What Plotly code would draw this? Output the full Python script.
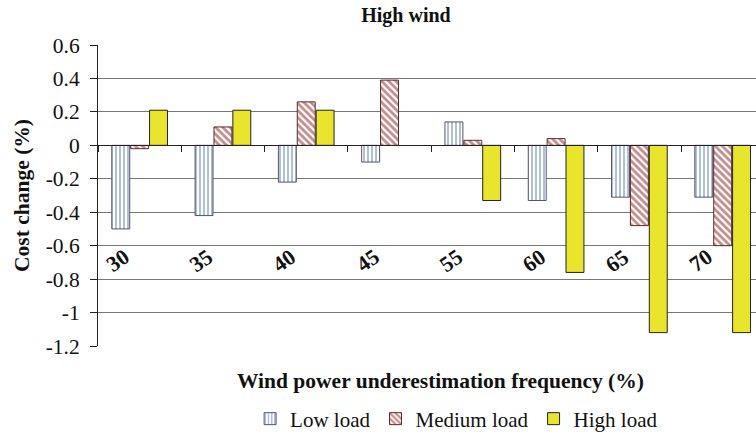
import plotly.graph_objects as go

categories = ["30", "35", "40", "45", "55", "60", "65", "70"]
low_load = [-0.50, -0.42, -0.22, -0.10, 0.14, -0.33, -0.31, -0.31]
medium_load = [-0.02, 0.11, 0.26, 0.39, 0.03, 0.04, -0.48, -0.60]
high_load = [0.21, 0.21, 0.21, None, -0.33, -0.76, -1.12, -1.12]
y_ticks = [0.6, 0.4, 0.2, 0, -0.2, -0.4, -0.6, -0.8, -1, -1.2]
y_tick_text = ["0.6", "0.4", "0.2", "0", "-0.2", "-0.4", "-0.6", "-0.8", "-1", "-1.2"]

FONT = "Liberation Serif"
TXT = "#111111"
LABEL_LEVEL = -0.69  # value level at which the category labels are printed

fig = go.Figure()
fig.add_trace(go.Bar(
    x=categories, y=low_load, name="Low load",
    marker=dict(color="white", line=dict(color="#555566", width=1),
                pattern=dict(shape="|", fgcolor="#4A6FC0", bgcolor="white", size=4, solidity=0.45)),
))
fig.add_trace(go.Bar(
    x=categories, y=medium_load, name="Medium load",
    marker=dict(color="white", line=dict(color="#5a2a2a", width=1),
                pattern=dict(shape="\\", fgcolor="#8B1A1A", bgcolor="white", size=5, solidity=0.55)),
))
fig.add_trace(go.Bar(
    x=categories, y=high_load, name="High load",
    marker=dict(color="#E9E42C", line=dict(color="#222222", width=1)),
))

annotations = [dict(
    text="<b>Wind power underestimation frequency (%)</b>", xref="paper", yref="paper",
    x=0.52, y=-0.115, xanchor="center", yanchor="middle", showarrow=False,
    font=dict(size=21.5, family=FONT, color=TXT),
)]
for i, c in enumerate(categories):
    annotations.append(dict(
        text="<b>" + c + "</b>", xref="x", yref="y", x=i, y=LABEL_LEVEL,
        xshift=-22, xanchor="center", yanchor="middle", textangle=-35, showarrow=False,
        font=dict(size=22, family=FONT, color=TXT),
    ))

fig.update_layout(
    width=756, height=434,
    margin=dict(l=98, r=0, t=45, b=88),
    paper_bgcolor="white", plot_bgcolor="white",
    barmode="group", bargap=0.32, bargroupgap=0.05,
    font=dict(family=FONT, color=TXT),
    title=dict(text="<b>High wind</b>", x=0.537, xanchor="center", y=0.965, yanchor="middle",
               font=dict(size=20, family=FONT, color=TXT)),
    showlegend=True,
    legend=dict(orientation="h", x=0.545, xanchor="center",
                yref="container", y=15/434, yanchor="middle",
                font=dict(size=21, family=FONT, color=TXT),
                itemwidth=30, traceorder="normal"),
    xaxis=dict(
        type="category", range=[-0.5, 7.4],
        showticklabels=False, tickson="boundaries", ticks="outside", ticklen=6,
        tickcolor="#222222", showline=True, linecolor="#222222", linewidth=1,
        showgrid=False, zeroline=False,
        anchor="free", position=201/301,
    ),
    yaxis=dict(
        range=[-1.2, 0.6], tickvals=y_ticks, ticktext=y_tick_text,
        showgrid=True, gridcolor="#777777", gridwidth=1,
        zeroline=False, showline=True, linecolor="#222222", linewidth=1,
        ticks="outside", ticklen=7, tickcolor="#222222", ticklabelstandoff=6,
        tickfont=dict(size=21.5, family=FONT, color=TXT),
        title=dict(text="<b>Cost change (%)</b>", font=dict(size=21.5, family=FONT, color=TXT), standoff=10),
    ),
    annotations=annotations,
)

fig.write_html("out.html")
